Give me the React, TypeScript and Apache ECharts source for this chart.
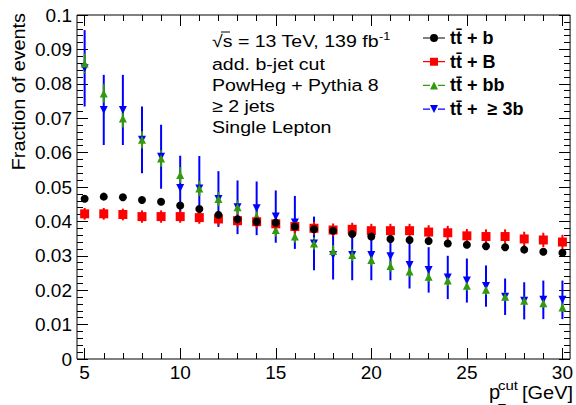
import React, { useEffect, useRef } from "react";
import * as echarts from "echarts";

const FONT = "'Liberation Sans', Arial, Helvetica, sans-serif";

const xValues = [5, 6, 7, 8, 9, 10, 11, 12, 13, 14, 15, 16, 17, 18, 19, 20, 21, 22, 23, 24, 25, 26, 27, 28, 29, 30];

const ttbY = [0.0466, 0.0472, 0.047, 0.0462, 0.0457, 0.0446, 0.0436, 0.0419, 0.0406, 0.0399, 0.0396, 0.0385, 0.0377, 0.0373, 0.0363, 0.0356, 0.0349, 0.0346, 0.0343, 0.0336, 0.0332, 0.0328, 0.0325, 0.0318, 0.0312, 0.0309];
const ttbErr = [0.0008, 0.0008, 0.0008, 0.0008, 0.0008, 0.0008, 0.0008, 0.0008, 0.0008, 0.0008, 0.0008, 0.0008, 0.0008, 0.0008, 0.0008, 0.0008, 0.0008, 0.0008, 0.0008, 0.0008, 0.0008, 0.0008, 0.0008, 0.0008, 0.0008, 0.0008];

const ttBY = [0.0422, 0.0422, 0.042, 0.0414, 0.0414, 0.0414, 0.0411, 0.0407, 0.0402, 0.0399, 0.0393, 0.0385, 0.038, 0.0375, 0.0377, 0.0373, 0.0373, 0.0373, 0.0369, 0.0367, 0.0358, 0.0356, 0.0356, 0.0349, 0.0346, 0.034];
const ttBErr = [0.0017, 0.0017, 0.0017, 0.0018, 0.0018, 0.0018, 0.0018, 0.0018, 0.0018, 0.0019, 0.0019, 0.0019, 0.0019, 0.0019, 0.0019, 0.002, 0.002, 0.002, 0.002, 0.002, 0.002, 0.0021, 0.0021, 0.0021, 0.0021, 0.0021];

const ttbbY = [0.0859, 0.0772, 0.0699, 0.0637, 0.0583, 0.0535, 0.0496, 0.0465, 0.0441, 0.0415, 0.0375, 0.0356, 0.0336, 0.0314, 0.0302, 0.0288, 0.027, 0.0254, 0.0239, 0.0228, 0.0213, 0.0201, 0.0181, 0.0169, 0.0162, 0.015];
const ttbbErr = [0.0029, 0.0027, 0.0026, 0.0025, 0.0024, 0.0023, 0.0022, 0.0021, 0.002, 0.002, 0.0019, 0.0018, 0.0018, 0.0017, 0.0017, 0.0016, 0.0016, 0.0015, 0.0015, 0.0015, 0.0014, 0.0014, 0.0013, 0.0013, 0.0013, 0.0012];

const tt3bY = [0.0845, 0.0724, 0.0724, 0.0637, 0.0588, 0.0497, 0.0496, 0.0465, 0.0441, 0.0438, 0.0414, 0.0397, 0.0336, 0.0302, 0.0302, 0.0302, 0.0299, 0.0273, 0.0259, 0.0237, 0.0228, 0.0212, 0.0181, 0.0169, 0.0172, 0.0172];
const tt3bErr = [0.0111, 0.0102, 0.0102, 0.0097, 0.0093, 0.0094, 0.0094, 0.0081, 0.0078, 0.0078, 0.0076, 0.0077, 0.0078, 0.0071, 0.0073, 0.0073, 0.007, 0.0068, 0.0066, 0.0063, 0.0064, 0.006, 0.0053, 0.0054, 0.0056, 0.0056];

const xMajorTicks = [5, 10, 15, 20, 25, 30];
const xMinorTicks = [5, 6, 7, 8, 9, 10, 11, 12, 13, 14, 15, 16, 17, 18, 19, 20, 21, 22, 23, 24, 25, 26, 27, 28, 29, 30];

const infoLines = ["add. b-jet cut", "PowHeg + Pythia 8", "\u2265 2 jets", "Single Lepton"];

const NAME_B = "tt\u0304 + b";
const NAME_BIGB = "tt\u0304 + B";
const NAME_BB = "tt\u0304 + bb";
const NAME_3B = "tt\u0304 +  \u2265 3b";

const groups = [
  { name: NAME_3B, y: tt3bY, err: tt3bErr, color: "#0000ff", symbol: "triangle", rotate: 180, size: 8,
    icon: "path://M0,3.4h7v1.2H0z M15,3.4h7v1.2h-7z M7,0L15,0L11,8z" },
  { name: NAME_BB, y: ttbbY, err: ttbbErr, color: "#339a10", symbol: "triangle", rotate: 0, size: 8,
    icon: "path://M0,3.4h7v1.2H0z M15,3.4h7v1.2h-7z M11,0L15,8L7,8z" },
  { name: NAME_BIGB, y: ttBY, err: ttBErr, color: "#ff0000", symbol: "rect", rotate: 0, size: 9,
    icon: "path://M0,3.4h7v1.2H0z M15,3.4h7v1.2h-7z M7,0h8v8h-8z" },
  { name: NAME_B, y: ttbY, err: ttbErr, color: "#000000", symbol: "circle", rotate: 0, size: 8,
    icon: "path://M0,3.4h7v1.2H0z M15,3.4h7v1.2h-7z M7,4a4,4 0 1,1 8,0a4,4 0 1,1 -8,0z" },
];

function buildSeries() {
  const out: any[] = [];
  groups.forEach((g) => {
    out.push({
      type: "custom",
      name: g.name + " err",
      xAxisIndex: 0,
      yAxisIndex: 0,
      data: xValues.map((x, i) => [x, g.y[i] - g.err[i], g.y[i] + g.err[i]]),
      encode: { x: 0, y: [1, 2] },
      renderItem: (params: any, api: any) => {
        const p1 = api.coord([api.value(0), api.value(1)]);
        const p2 = api.coord([api.value(0), api.value(2)]);
        return {
          type: "line",
          shape: { x1: p1[0], y1: p1[1], x2: p2[0], y2: p2[1] },
          style: { stroke: g.color, lineWidth: 2 },
        };
      },
      silent: true,
    });
    out.push({
      type: "scatter",
      name: g.name,
      xAxisIndex: 0,
      yAxisIndex: 0,
      data: xValues.map((x, i) => [x, g.y[i]]),
      symbol: g.symbol,
      symbolRotate: g.rotate,
      symbolSize: g.size,
      itemStyle: { color: g.color, opacity: 1 },
    });
  });
  return out;
}

function xAxisDef(position: "bottom" | "top", ticks: number[], len: number, labels: boolean) {
  return {
    type: "value",
    position,
    min: 4.6,
    max: 30.4,
    axisLine: { show: false },
    splitLine: { show: false },
    axisTick: { show: true, inside: true, length: len, customValues: ticks, lineStyle: { color: "#000", width: 1 } },
    axisLabel: labels
      ? { show: true, customValues: ticks, fontSize: 19, color: "#000", fontFamily: FONT, margin: 4 }
      : { show: false },
  };
}

function yAxisDef(position: "left" | "right", labels: boolean) {
  return {
    type: "value",
    position,
    min: 0,
    max: 0.1,
    interval: 0.01,
    axisLine: { show: false },
    splitLine: { show: false },
    axisTick: { show: true, inside: true, length: 11, lineStyle: { color: "#000", width: 1 } },
    minorTick: { show: true, splitNumber: 5, length: 6, lineStyle: { color: "#000", width: 1 } },
    axisLabel: labels
      ? {
          show: true,
          fontSize: 19,
          color: "#000",
          fontFamily: FONT,
          margin: 5,
          formatter: (v: number) => String(+v.toFixed(3)),
        }
      : { show: false },
  };
}

export default function App() {
  const ref = useRef<HTMLDivElement>(null);
  useEffect(() => {
    if (!ref.current) return;
    const chart = echarts.init(ref.current, null, { renderer: "svg" });
    const option: any = {
      animation: false,
      backgroundColor: "#ffffff",
      grid: { left: 77, right: 4, top: 15, bottom: 46, show: true, borderColor: "#000", borderWidth: 1, backgroundColor: "transparent" },
      xAxis: [
        xAxisDef("bottom", xMajorTicks, 11, true),
        xAxisDef("bottom", xMinorTicks, 6, false),
        xAxisDef("top", xMajorTicks, 11, false),
        xAxisDef("top", xMinorTicks, 6, false),
      ],
      yAxis: [yAxisDef("left", true), yAxisDef("right", false)],
      legend: {
        orient: "vertical",
        left: 423,
        top: 29,
        padding: 0,
        itemWidth: 22,
        itemHeight: 8,
        itemGap: 5.7,
        selectedMode: false,
        textStyle: { fontSize: 18, fontWeight: "bold", fontFamily: FONT, color: "#000", lineHeight: 18 },
        data: [...groups].reverse().map((g) => ({ name: g.name, icon: g.icon })),
      },
      series: buildSeries(),
      graphic: [
        {
          type: "text",
          x: 212,
          y: 41,
          scaleX: 1.15,
          style: {
            text: "\u221As = 13 TeV, 139 fb{sup|-1}",
            fontSize: 17,
            fontFamily: FONT,
            fill: "#000",
            textVerticalAlign: "middle",
            verticalAlign: "middle",
            rich: { sup: { fontSize: 11, fontFamily: FONT, padding: [0, 0, 10, 0] } },
          },
        },
        {
          type: "line",
          shape: { x1: 221, y1: 32, x2: 230, y2: 32 },
          style: { stroke: "#000", lineWidth: 1 },
        },
        ...infoLines.map((t, i) => ({
          type: "text",
          x: 212,
          y: 63.5 + i * 21.3,
          scaleX: 1.15,
          style: { text: t, fontSize: 17, fontFamily: FONT, fill: "#000", textVerticalAlign: "middle", verticalAlign: "middle" },
        })),
        {
          type: "text",
          x: 18.5,
          y: 13,
          rotation: Math.PI / 2,
          scaleX: 1.1,
          style: {
            text: "Fraction of events",
            fontSize: 18,
            fontFamily: FONT,
            fill: "#000",
            textAlign: "right",
            align: "right",
            textVerticalAlign: "middle",
            verticalAlign: "middle",
          },
        },
        {
          type: "text",
          x: 489,
          y: 392,
          style: { text: "p", fontSize: 20, fontFamily: FONT, fill: "#000", textVerticalAlign: "middle", verticalAlign: "middle" },
        },
        {
          type: "text",
          x: 498,
          y: 385,
          scaleX: 1.15,
          style: { text: "cut", fontSize: 13, fontFamily: FONT, fill: "#000", textVerticalAlign: "middle", verticalAlign: "middle" },
        },
        {
          type: "text",
          x: 498,
          y: 408,
          style: { text: "T", fontSize: 13, fontFamily: FONT, fill: "#000", textVerticalAlign: "middle", verticalAlign: "middle" },
        },
        {
          type: "text",
          x: 573,
          y: 392,
          scaleX: 1.05,
          style: {
            text: "[GeV]",
            fontSize: 19,
            fontFamily: FONT,
            fill: "#000",
            textAlign: "right",
            align: "right",
            textVerticalAlign: "middle",
            verticalAlign: "middle",
          },
        },
      ],
    };
    chart.setOption(option);
    return () => chart.dispose();
  }, []);
  return <div ref={ref} style={{ position: "fixed", left: 0, top: 0, width: 576, height: 405 }} />;
}
